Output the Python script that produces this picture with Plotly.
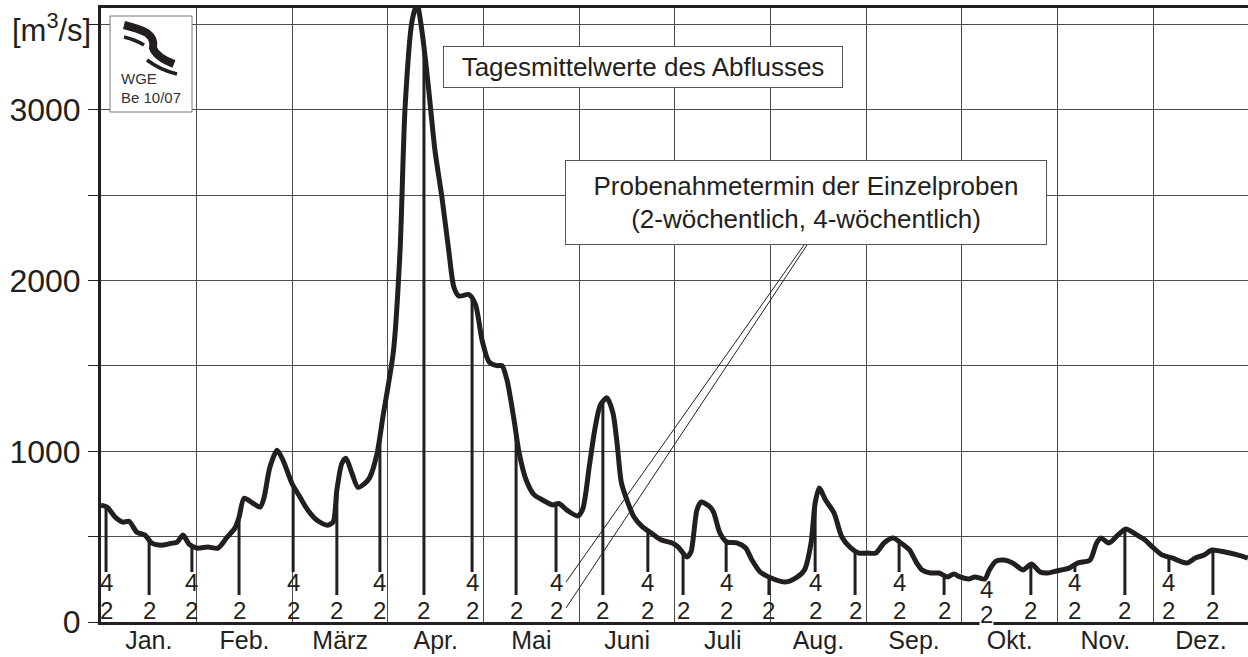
import numpy as np
import plotly.graph_objects as go

# Daily mean discharge (day of year, m3/s)
FLOW_DAY = [0, 2, 4.5, 7, 8.9, 11.4, 14, 16.2, 19.4, 22.6, 24.2, 26.1, 28, 30.5, 34, 37.2,
            40.1, 42.6, 43.9, 45.5, 48.3, 50.6, 51.8, 53.7, 56, 57.9, 60.7, 63.3, 65.8, 68.7,
            71.9, 73.8, 75, 76.6, 77.9, 79.8, 81.7, 84, 85.5, 87.8, 89.7, 93, 95.1, 96.7,
            98.9, 100.5, 102.1, 104.2, 106.2, 108.4, 110.6, 112.2, 113.8, 117, 119.1, 121.2,
            123.4, 125.9, 127.5, 129.1, 131.3, 132.9, 135.2, 137.7, 140.4, 143.6, 145.6,
            148.4, 151.6, 153.2, 155.3, 157, 158.8, 160.9, 162.8, 164.1, 165.5, 167.6, 169.5,
            172.2, 174.9, 178.2, 181.6, 183.5, 186.3, 187.6, 189.5, 190.9, 193.7, 194.9,
            196.8, 199, 202.2, 205, 207, 209.6, 213.1, 217.7, 221, 223.7, 225.8, 227.1, 228.4,
            230.4, 233.1, 235.6, 238.4, 241, 243.7, 246.4, 249, 251.9, 254.4, 257.1, 259.2,
            261.1, 263.8, 266.5, 269.2, 271.2, 273.2, 275.9, 277.9, 281.1, 282.5, 284.6,
            287.2, 289.9, 293.2, 295.9, 298.6, 301.1, 303.9, 307.9, 310.7, 314.5, 316.6, 318,
            320.5, 323.4, 325.9, 329.4, 332, 334.7, 337.4, 340.6, 345.3, 348, 350.8, 353.3,
            357.4, 361.4, 364.7]
FLOW = [684, 672, 614, 585, 590, 526, 509, 462, 450, 462, 468, 509, 456, 433, 439, 433,
        497, 550, 614, 725, 696, 673, 725, 906, 1006, 947, 813, 731, 655, 596,
        567, 585, 772, 930, 959, 871, 789, 813, 848, 988, 1207, 1588, 2174, 3015,
        3519, 3620, 3457, 3120, 2763, 2490, 2174, 1963, 1910, 1918, 1859, 1650,
        1524, 1502, 1502, 1418, 1190, 998, 832, 746, 715, 686, 694,
        652, 621, 662, 914, 1125, 1272, 1313, 1225, 1049, 815, 697, 615,
        557, 522, 480, 463, 440, 381, 410, 656, 703, 674, 639,
        522, 469, 463, 434, 363, 293, 258, 234, 258, 305, 463, 697, 785,
        715, 639, 498, 434, 404, 404, 404, 463, 492, 463, 422, 352,
        305, 287, 287, 264, 281, 264, 252, 264, 252, 305, 357,
        363, 346, 305, 340, 293, 287, 299, 316, 346, 363, 463, 492,
        463, 510, 545, 510, 480, 434, 393, 375, 346, 375, 393, 422,
        410, 393, 375]

# Sampling dates (day of year): every one is a 2-weekly sample, every other one also 4-weekly
SAMPLE_4W = [1.6, 28.9, 61.1, 88.7, 118.0, 144.7, 173.9, 198.8, 227.1, 253.8, 281.7, 309.7, 339.6]
SAMPLE_2W_ONLY = [15.3, 43.9, 75.0, 102.7, 132.0, 159.6, 185.1, 212.4, 239.8, 268.1, 295.7, 325.6, 353.6]
SAMPLE_2W = sorted(SAMPLE_4W + SAMPLE_2W_ONLY)

MONTHS = ['Jan.', 'Feb.', 'März', 'Apr.', 'Mai', 'Juni', 'Juli', 'Aug.', 'Sep.', 'Okt.', 'Nov.', 'Dez.']
Y_TICKS = [0, 500, 1000, 1500, 2000, 2500, 3000, 3500]
Y_LABELS = ['0', '', '1000', '', '2000', '', '3000', '']

FONT = "Liberation Sans, Arial, Helvetica, sans-serif"
INK = '#231f20'
GRID = '#4d4d4d'
W, H = 1248, 657
M = dict(l=101, r=0, t=8, b=35)
MONTH_LEN = 365 / 12


def paper(px, py):
    """pixel position in the picture -> paper coordinates"""
    return ((px - M['l']) / (W - M['l'] - M['r']),
            (H - M['b'] - py) / (H - M['t'] - M['b']))


def path(cmds):
    out = []
    for c in cmds:
        letter, pts = c[0], c[1:]
        coords = []
        for i in range(0, len(pts), 2):
            x, y = paper(pts[i], pts[i + 1])
            coords.append(f"{x:.5f},{y:.5f}")
        out.append(letter + ' ' + ' '.join(coords))
    return ' '.join(out)


fig = go.Figure()

# sampling marks: vertical lines from above the labels up to the hydrograph
flow_at = np.interp(SAMPLE_2W, FLOW_DAY, FLOW)
lx, ly = [], []
for d, q in zip(SAMPLE_2W, flow_at):
    base = 293 if d in SAMPLE_4W else 158
    if q > base:
        lx += [d, d, None]
        ly += [base, q, None]
fig.add_trace(go.Scatter(x=lx, y=ly, mode='lines', line=dict(color=INK, width=3),
                         hoverinfo='skip'))

fig.add_trace(go.Scatter(
    x=FLOW_DAY, y=FLOW, mode='lines',
    line=dict(color=INK, width=5, shape='spline', smoothing=0.7),
    name='Tagesmittelwerte des Abflusses'
))

annotations = []
okt = (9 * MONTH_LEN, 10 * MONTH_LEN)
for d in SAMPLE_2W:
    # the October 4-weekly pair sits a little lower in the original, over the axis line
    low = d in SAMPLE_4W and okt[0] <= d < okt[1]
    annotations.append(dict(x=d, y=0, xref='x', yref='y', text='2', showarrow=False,
                            yshift=8 if low else 12, borderpad=0,
                            bgcolor='white' if low else None,
                            font=dict(size=24, color=INK)))
for d in SAMPLE_4W:
    low = okt[0] <= d < okt[1]
    annotations.append(dict(x=d, y=0, xref='x', yref='y', text='4', showarrow=False,
                            yshift=33 if low else 40, font=dict(size=24, color=INK)))

# unit label
ux, _ = paper(93, 0)
annotations.append(dict(x=ux, y=3500, xref='paper', yref='y', xanchor='right', yanchor='middle',
                        text='[m<sup>3</sup>/s]', showarrow=False, yshift=-3,
                        font=dict(size=31, color=INK)))

# text boxes
bx, by = paper(643, 67)
annotations.append(dict(x=bx, y=by, xref='paper', yref='paper', xanchor='center',
                        yanchor='middle', showarrow=False,
                        text='Tagesmittelwerte des Abflusses', width=398, height=40,
                        bgcolor='white', bordercolor='#555555', borderwidth=1, borderpad=0,
                        font=dict(size=26, color=INK)))
bx, by = paper(806, 202.5)
annotations.append(dict(x=bx, y=by, xref='paper', yref='paper', xanchor='center',
                        yanchor='middle', showarrow=False,
                        text='Probenahmetermin der Einzelproben<br>(2-wöchentlich, 4-wöchentlich)',
                        width=480, height=83,
                        bgcolor='white', bordercolor='#555555', borderwidth=1, borderpad=0,
                        font=dict(size=26, color=INK)))

# logo text
for txt, py in [('WGE', 78), ('Be 10/07', 98)]:
    tx, ty = paper(119, py)
    annotations.append(dict(x=tx, y=ty, xref='paper', yref='paper', xanchor='left',
                            yanchor='middle', text=txt, showarrow=False,
                            font=dict(size=15, color='#333333')))

shapes = []
# leader lines from the box to the Mai sample labels
for (x0, y0), (x1, y1) in [((804, 245), (566, 582)), ((807, 245), (566, 608))]:
    p0, p1 = paper(x0, y0), paper(x1, y1)
    shapes.append(dict(type='line', xref='paper', yref='paper', x0=p0[0], y0=p0[1],
                       x1=p1[0], y1=p1[1], line=dict(color=INK, width=1), layer='above'))

# logo box and swoosh
l0, t0 = paper(110, 16)
l1, t1 = paper(192, 112)
shapes.append(dict(type='rect', xref='paper', yref='paper', x0=l0, y0=t1, x1=l1, y1=t0,
                   fillcolor='white', line=dict(color='#777777', width=1), layer='above'))
shapes.append(dict(type='path', xref='paper', yref='paper', layer='above',
                   path=path([('M', 124, 25), ('Q', 140, 29, 147, 33), ('Q', 155, 39, 153, 48),
                              ('Q', 156, 57, 174, 64)]),
                   line=dict(color=INK, width=8)))
shapes.append(dict(type='path', xref='paper', yref='paper', layer='above',
                   path=path([('M', 124, 37), ('Q', 136, 40, 144, 45)]),
                   line=dict(color=INK, width=3.5)))
shapes.append(dict(type='path', xref='paper', yref='paper', layer='above',
                   path=path([('M', 147, 60), ('Q', 160, 70, 177, 74)]),
                   line=dict(color=INK, width=3.5)))

fig.update_layout(
    width=W, height=H,
    margin=M,
    paper_bgcolor='white',
    plot_bgcolor='white',
    showlegend=False,
    font=dict(family=FONT, color=INK),
    annotations=annotations,
    shapes=shapes,
    xaxis=dict(
        range=[0, 364.75],
        tickmode='array',
        tickvals=[(i + 0.5) * MONTH_LEN for i in range(12)],
        ticktext=MONTHS,
        ticks='',
        ticklabelstandoff=-6,
        tickfont=dict(size=25, color=INK),
        showgrid=False,
        zeroline=False,
        automargin=False,
        showline=True, linecolor=INK, linewidth=3, mirror=True,
        minor=dict(tickmode='array', tickvals=[i * MONTH_LEN for i in range(1, 12)],
                   showgrid=True, gridcolor=GRID, gridwidth=1, ticks=''),
    ),
    yaxis=dict(
        range=[0, 3597],
        tickmode='array',
        tickvals=Y_TICKS,
        ticktext=Y_LABELS,
        ticks='outside', ticklen=10, tickwidth=1, tickcolor=INK,
        ticklabelstandoff=1,
        tickfont=dict(size=32, color=INK),
        showgrid=True, gridcolor=GRID, gridwidth=1,
        zeroline=False,
        automargin=False,
        showline=True, linecolor=INK, linewidth=3,
    ),
)

# the page body has a default 8px margin; remove it so the figure fills the window
fig.write_html("out.html", config={'displayModeBar': False},
               post_script="document.body.style.margin='0';")
